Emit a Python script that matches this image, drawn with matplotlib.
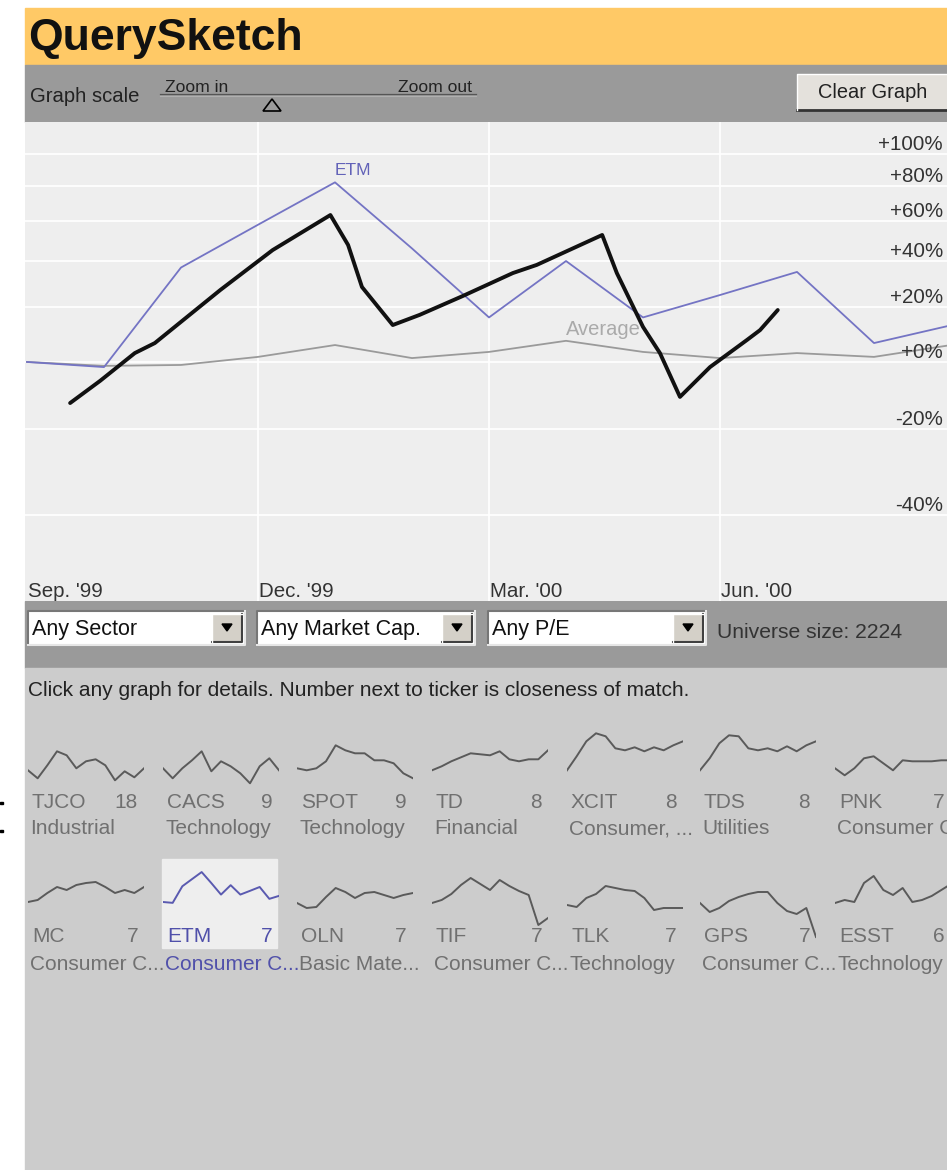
import numpy as np
import matplotlib.pyplot as plt
from matplotlib.patches import Rectangle, Polygon
from matplotlib.ticker import NullLocator

plt.rcParams['font.family'] = ['Liberation Sans', 'DejaVu Sans']

W, H = 947, 1170

# main graph: months after Sep. '99, % change
months = list(range(13))
etm_pct = [0, -1.7, 37, 58, 82, 46, 16, 40, 16, 25, 35, 6.5, 13]
avg_pct = [0, -1.3, -1.0, 1.7, 5.8, 1.3, 3.4, 7.3, 3.4, 1.3, 3.0, 1.7, 5.8]
sketch_month = [0.56, 0.95, 1.40, 1.66, 2.51, 3.19, 3.94, 4.17, 4.35, 4.75, 5.10, 5.66,
                6.31, 6.62, 7.47, 7.66, 8.00, 8.22, 8.48, 8.61, 8.87, 9.35, 9.52, 9.75]
sketch_pct = [-12.8, -6.1, 3.0, 6.5, 27.1, 45.2, 63.2, 47.7, 28.4, 13.1, 17.0, 24.6,
              34.5, 38.2, 52.7, 34.5, 12.4, 3.0, -11.0, -8.0, -1.7, 7.6, 11.2, 18.9]
y_ticks = [100, 80, 60, 40, 20, 0, -20, -40]
y_labels = ['+100%', '+80%', '+60%', '+40%', '+20%', '+0%', '-20%', '-40%']
month_pos = [0, 3, 6, 9]
month_labels = ["Sep. '99", "Dec. '99", "Mar. '00", "Jun. '00"]

# result thumbnails (sparkline heights, px above baseline)
tickers_1 = ['TJCO', 'CACS', 'SPOT', 'TD', 'XCIT', 'TDS', 'PNK']
scores_1 = [18, 9, 9, 8, 8, 8, 7]
sectors_1 = ['Industrial', 'Technology', 'Technology', 'Financial', 'Consumer, ...',
             'Utilities', 'Consumer C']
tickers_2 = ['MC', 'ETM', 'OLN', 'TIF', 'TLK', 'GPS', 'ESST']
scores_2 = [7, 7, 7, 7, 7, 7, 6]
sectors_2 = ['Consumer C...', 'Consumer C...', 'Basic Mate...', 'Consumer C...',
             'Technology', 'Consumer C...', 'Technology']

spark_tjco = [13, 5, 18, 32, 28, 15, 22, 24, 18, 3, 12, 6, 15]
spark_cacs = [15, 5, 15, 23, 32, 12, 22, 17, 10, 0, 17, 25, 13]
spark_spot = [15, 13, 15, 22, 38, 33, 30, 30, 23, 23, 20, 10, 5]
spark_td = [13, 17, 22, 26, 30, 29, 28, 32, 24, 22, 24, 24, 33]
spark_xcit = [13, 27, 42, 50, 47, 35, 33, 36, 32, 36, 33, 38, 42]
spark_tds = [13, 25, 40, 48, 47, 35, 33, 35, 32, 37, 32, 38, 42]
spark_pnk = [15, 8, 15, 25, 27, 20, 13, 23, 22, 22, 22, 23, 23]
spark_mc = [8, 10, 17, 23, 20, 25, 27, 28, 23, 17, 20, 17, 23]
spark_oln = [7, 2, 3, 13, 22, 18, 12, 17, 18, 15, 12, 15, 17]
spark_tif = [7, 10, 16, 25, 32, 26, 20, 30, 24, 19, 15, -15, -8]
spark_tlk = [5, 3, 12, 16, 24, 22, 20, 19, 12, 0, 2, 2, 2]
spark_gps = [7, -2, 2, 9, 13, 16, 18, 18, 7, -1, -4, 2, -27]
spark_esst = [7, 10, 8, 27, 34, 20, 15, 22, 8, 10, 14, 20, 26]

fig = plt.figure(figsize=(W / 100, H / 100), dpi=100)
bg = fig.add_axes([0, 0, 1, 1])
bg.set_xlim(0, W)
bg.set_ylim(H, 0)
bg.axis('off')


def px_axes(x0, y0, x1, y1):
    return fig.add_axes([x0 / W, 1 - y1 / H, (x1 - x0) / W, (y1 - y0) / H])


# panels
bg.add_patch(Rectangle((25, 8), W - 25, 57, color='#FFC966'))
bg.add_patch(Rectangle((25, 65), W - 25, 57, color='#9A9A9A'))
bg.add_patch(Rectangle((25, 601), W - 25, 67, color='#9A9A9A'))
bg.add_patch(Rectangle((25, 668), W - 25, H - 668, color='#CCCCCC'))
bg.add_patch(Rectangle((0, 802), 3, 2, color='black'))
bg.add_patch(Rectangle((0, 830), 3, 2, color='black'))

bg.text(28, 50, 'QuerySketch', fontsize=32, fontweight='bold', va='baseline', color='#111111')

# toolbar
bg.text(30, 96, 'Graph scale', fontsize=14.6, va='center', color='#222222')
bg.text(165, 87, 'Zoom in', fontsize=12.6, va='center', color='#222222')
bg.text(398, 87, 'Zoom out', fontsize=12.6, va='center', color='#222222')
bg.plot([160, 476], [94, 94], color='#555555', lw=0.9)
bg.plot([160, 476], [96, 96], color='#B0B0B0', lw=0.8)
bg.add_patch(Polygon([(263, 111), (281, 111), (272, 99)], fc='#9A9A9A', ec='black', lw=1.2))
bg.add_patch(Rectangle((797, 74), 150, 36, fc='#E4E1DC', ec='none'))
bg.plot([797, 947], [110, 110], color='#333333', lw=2)
bg.plot([797, 797, 947], [110, 74, 74], color='white', lw=1)
bg.text(873, 93, 'Clear Graph', fontsize=14.4, ha='center', va='center', color='#222222')

# main graph
ax = px_axes(25, 122, W, 601)
ax.set_facecolor('#EEEEEE')
ax.set_yscale('log')
ax.set_xlim(-0.026, 11.948)
ax.set_ylim(np.exp(-0.797), np.exp(0.8))
ax.set_yticks([1 + t / 100 for t in y_ticks])
ax.yaxis.set_minor_locator(NullLocator())
ax.set_xticks([3, 6, 9])
ax.tick_params(length=0, labelleft=False, labelbottom=False)
ax.grid(color='white', lw=1.2)
for s in ax.spines.values():
    s.set_visible(False)

etm_v = [1 + p / 100 for p in etm_pct]
avg_v = [1 + p / 100 for p in avg_pct]
sk_v = [1 + p / 100 for p in sketch_pct]
ax.plot(months, avg_v, color='#9A9A9A', lw=1.3, zorder=2)
ax.plot(months, etm_v, color='#7474C4', lw=1.3, zorder=2)
ax.annotate('Average', (7, avg_v[7]), xytext=(37, 11), textcoords='offset pixels',
            ha='center', va='center', fontsize=14.5, color='#AAAAAA', zorder=1.5)
ax.annotate('ETM', (4, etm_v[4]), xytext=(18, 12), textcoords='offset pixels',
            ha='center', va='center', fontsize=12.5, color='#6262B8')
ax.plot(sketch_month, sk_v, color='#111111', lw=2.8, zorder=3,
        solid_joinstyle='round', solid_capstyle='round')

for t, lab in zip(y_ticks, y_labels):
    ax.text(0.9957, 1 + t / 100, lab, transform=ax.get_yaxis_transform(),
            ha='right', va='bottom', fontsize=14.8, color='#333333')
for m, lab in zip(month_pos, month_labels):
    ax.text(m + 0.01, 0.0, lab, transform=ax.get_xaxis_transform(),
            ha='left', va='bottom', fontsize=14.8, color='#333333')


# filter row
def dropdown(x0, x1, label):
    bg.add_patch(Rectangle((x0, 611), x1 - x0, 34, fc='white', ec='none'))
    bg.plot([x0, x0, x1], [645, 611, 611], color='#777777', lw=1.5)
    bg.plot([x0, x1, x1], [645, 645, 611], color='#E6E6E6', lw=1.5)
    bx = x1 - 33
    bg.add_patch(Rectangle((bx, 614), 30, 28, fc='#D4D0C8', ec='none'))
    bg.plot([bx, bx + 30, bx + 30], [642, 642, 614], color='#404040', lw=1.5)
    bg.plot([bx, bx, bx + 30], [642, 614, 614], color='white', lw=1)
    bg.add_patch(Polygon([(bx + 10, 624), (bx + 20, 624), (bx + 15, 631)], color='black'))
    bg.text(x0 + 4, 629, label, fontsize=15.5, va='center', color='#111111')


dropdown(28, 245, 'Any Sector')
dropdown(257, 475, 'Any Market Cap.')
dropdown(488, 706, 'Any P/E')
bg.text(717, 633, 'Universe size: 2224', fontsize=15.2, va='center', color='#333333')
bg.text(28, 690, 'Click any graph for details. Number next to ticker is closeness of match.',
        fontsize=15, va='center', color='#222222')

# thumbnails
col_x = [28, 163, 297, 432, 567, 700, 835]
row1 = [spark_tjco, spark_cacs, spark_spot, spark_td, spark_xcit, spark_tds, spark_pnk]
row2 = [spark_mc, None, spark_oln, spark_tif, spark_tlk, spark_gps, spark_esst]

bg.add_patch(Rectangle((162, 859), 115, 89, color='#EEEEEE'))

for i, cx in enumerate(col_x):
    # row 1
    a = px_axes(cx, 725, cx + 116, 795)
    a.plot(range(13), row1[i], color='#5A5A5A', lw=1.4)
    a.set_xlim(0, 12)
    a.set_ylim(783.3 - 795, 783.3 - 725)
    a.axis('off')
    bg.text(cx + 4, 802, tickers_1[i], fontsize=15, va='center', color='#707070')
    bg.text(cx + 110, 802, str(scores_1[i]), fontsize=15, va='center', ha='right', color='#707070')
    bg.text(cx + 2, 829, sectors_1[i], fontsize=15, va='center', color='#707070')

    # row 2
    a = px_axes(cx, 852, cx + 116, 945)
    a.set_xlim(0, 12)
    col = '#707070'
    if row2[i] is None:
        col = '#5050AA'
        a.set_yscale('log')
        a.plot(months, etm_v, color='#5A5AB0', lw=1.4)
        a.set_ylim(np.exp((910 - 945 - 8) / 50), np.exp((910 - 852 - 8) / 50))
    else:
        a.plot(range(13), row2[i], color='#5A5A5A', lw=1.4)
        a.set_ylim(910 - 945, 910 - 852)
    a.axis('off')
    bg.text(cx + 4, 937, tickers_2[i], fontsize=15, va='center', color=col)
    bg.text(cx + 110, 937, str(scores_2[i]), fontsize=15, va='center', ha='right', color=col)
    bg.text(cx + 2, 964, sectors_2[i], fontsize=15, va='center', color=col)

plt.savefig('out.png', dpi=100)
